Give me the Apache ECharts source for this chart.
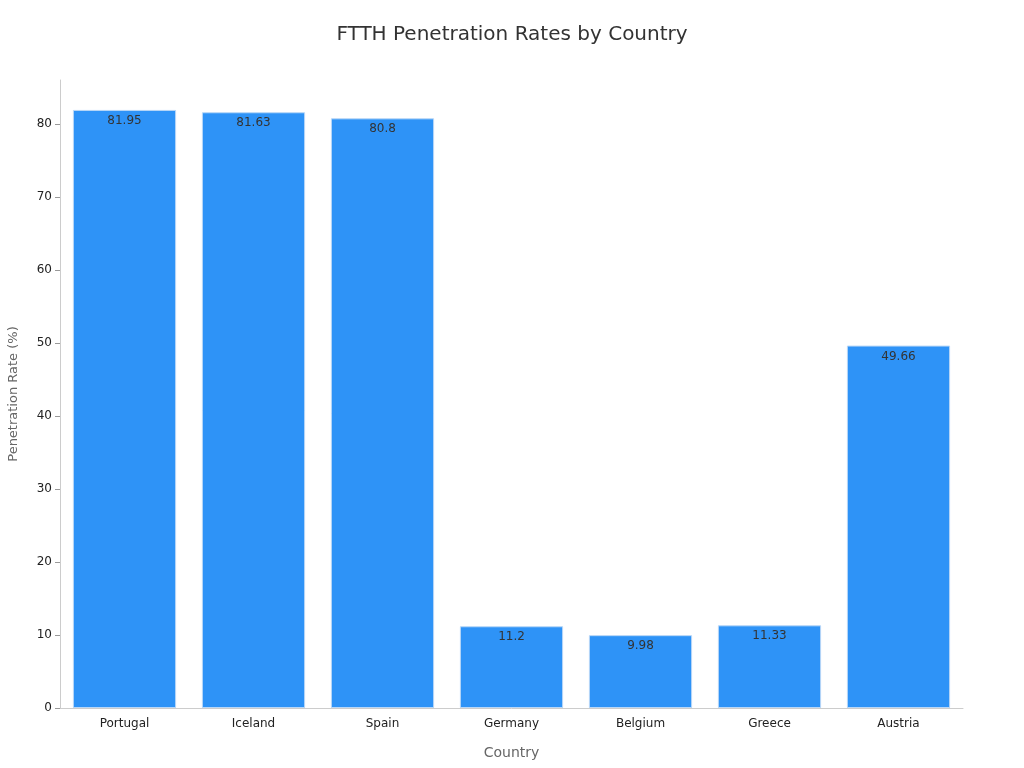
<!DOCTYPE html>
<html><head><meta charset="utf-8">
<script src="https://cdn.jsdelivr.net/npm/echarts@6/dist/echarts.min.js"></script>
<style>html,body{margin:0;padding:0;background:#fff}#c{width:1024px;height:768px}</style>
</head><body><div id="c"></div>
<script>
const categories = ["Portugal","Iceland","Spain","Germany","Belgium","Greece","Austria"];
const values = [81.95,81.63,80.8,11.2,9.98,11.33,49.66];
const chart = echarts.init(document.getElementById('c'));
chart.setOption({
  animation:false,
  textStyle:{fontFamily:'DejaVu Sans'},
  title:{text:'FTTH Penetration Rates by Country',left:'center',top:20,textStyle:{fontSize:20,fontWeight:'normal',color:'#333',fontFamily:'DejaVu Sans'}},
  grid:{left:60,right:61,top:80,bottom:60,containLabel:false,outerBoundsMode:'none'},
  xAxis:{type:'category',data:categories,name:'Country',nameLocation:'middle',nameGap:38,
    nameTextStyle:{fontSize:14,color:'#666'},
    axisLine:{lineStyle:{color:'#ccc'}},axisTick:{show:false},
    axisLabel:{fontSize:12,color:'#222',margin:10}},
  yAxis:{type:'value',min:0,max:86.05,interval:10,name:'Penetration Rate (%)',nameLocation:'middle',nameGap:40,
    nameTextStyle:{fontSize:13,color:'#666'},
    axisLine:{show:true,lineStyle:{color:'#ccc'}},axisTick:{show:true,lineStyle:{color:'#999'}},
    axisLabel:{fontSize:12,color:'#222',showMaxLabel:false,formatter:v=>v>85?'':v},splitLine:{show:false}},
  series:[{type:'bar',data:values,barWidth:'80%',
    itemStyle:{color:'#2E93F7',borderColor:'#b9d7f7',borderWidth:1},
    label:{show:true,position:'insideTop',offset:[0,0],fontSize:12,color:'#333'}}]
});
</script></body></html>
